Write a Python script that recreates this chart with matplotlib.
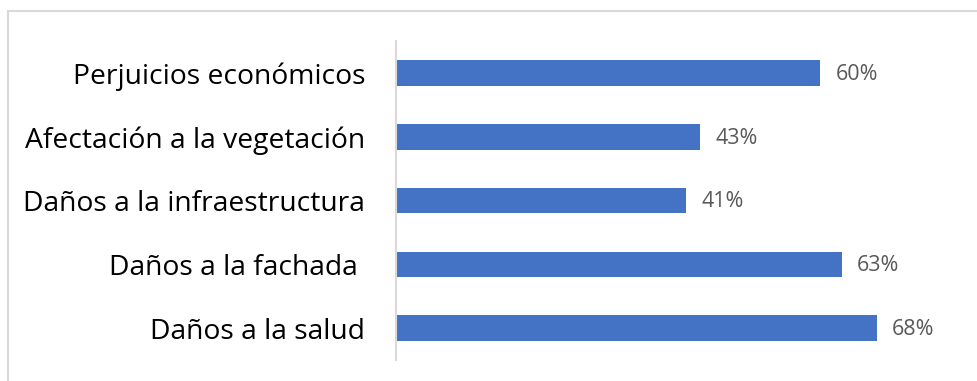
import matplotlib
matplotlib.use("Agg")
import matplotlib.pyplot as plt
from matplotlib.patches import Rectangle

categorias = ["Daños a la salud", "Daños a la fachada ", "Daños a la infraestructura",
              "Afectación a la vegetación", "Perjuicios económicos"]
valores = [0.68, 0.63, 0.41, 0.43, 0.60]
etiquetas = ["68%", "63%", "41%", "43%", "60%"]

plt.rcParams['font.family'] = ['Open Sans', 'DejaVu Sans']

fig = plt.figure(figsize=(9.78, 3.81), dpi=100)
ax = fig.add_axes([0.4045, 0.055, 0.579, 0.837])

# marco gris alrededor del gráfico (coordenadas en píxeles, origen abajo)
fig.patches.append(Rectangle((8, -60), 1000, 430, transform=None, fill=False,
                             edgecolor="#d9d9d9", linewidth=1.5))

pos = range(len(categorias))
ax.barh(pos, valores, height=0.4, color="#4472C4")
for y, v, t in zip(pos, valores, etiquetas):
    ax.annotate(t, (v, y), xytext=(11, -1), textcoords="offset points",
                va="center", ha="left", fontsize=15.5, color="#595959")

ax.set_xlim(0, 0.8)
ax.set_ylim(-0.5, 4.5)
ax.set_yticks(list(pos))
ax.set_yticklabels(categorias, fontsize=20.3, color="black")
ax.tick_params(axis="y", length=0, pad=22)
ax.set_xticks([])
for s in ["top", "right", "bottom"]:
    ax.spines[s].set_visible(False)
ax.spines["left"].set_color("#d9d9d9")
ax.spines["left"].set_linewidth(1.5)

fig.savefig("out.png", dpi=100)
